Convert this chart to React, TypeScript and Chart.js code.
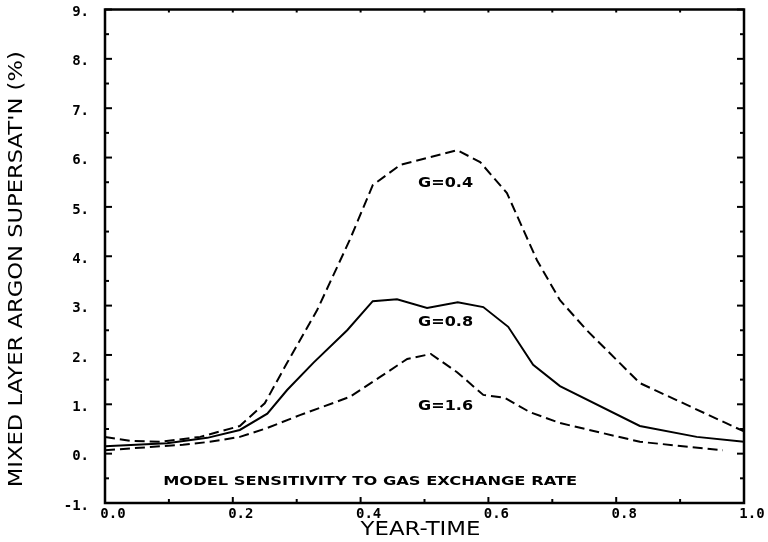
import React, { useEffect, useRef } from "react";
import { Chart, registerables } from "chart.js";

Chart.register(...registerables);

// ---- data ----
const g04X = [0.0, 0.039, 0.086, 0.149, 0.211, 0.25, 0.285, 0.332, 0.383, 0.419, 0.462, 0.551, 0.587, 0.629, 0.676, 0.712, 0.754, 0.837, 1.0];
const g04Y = [0.34, 0.26, 0.24, 0.34, 0.56, 1.02, 1.84, 2.91, 4.33, 5.44, 5.85, 6.15, 5.91, 5.28, 3.92, 3.11, 2.5, 1.43, 0.45];

const g08X = [0.0, 0.097, 0.16, 0.211, 0.254, 0.285, 0.326, 0.379, 0.419, 0.457, 0.504, 0.552, 0.592, 0.631, 0.67, 0.712, 0.837, 0.926, 1.0];
const g08Y = [0.15, 0.21, 0.32, 0.48, 0.81, 1.29, 1.84, 2.5, 3.09, 3.13, 2.95, 3.07, 2.97, 2.57, 1.8, 1.37, 0.56, 0.34, 0.24];

const g16X = [0.0, 0.044, 0.122, 0.164, 0.211, 0.254, 0.305, 0.383, 0.43, 0.473, 0.51, 0.551, 0.592, 0.626, 0.665, 0.712, 0.837, 0.967];
const g16Y = [0.07, 0.11, 0.18, 0.24, 0.34, 0.52, 0.78, 1.15, 1.55, 1.92, 2.02, 1.65, 1.19, 1.13, 0.84, 0.62, 0.24, 0.07];

const seriesLabels = ["G=0.4", "G=0.8", "G=1.6"];
const labelAnchorX = [0.533, 0.533, 0.533];
const labelAnchorY = [5.48, 2.67, 0.96];

const xTitle = "YEAR-TIME";
const yTitle = "MIXED LAYER ARGON SUPERSAT'N (%)";
const noteText = "MODEL SENSITIVITY TO GAS EXCHANGE RATE";
const noteAnchor = { x: 0.415, y: -0.58 };

const X_MIN = 0, X_MAX = 1, Y_MIN = -1, Y_MAX = 9;

const toPts = (xs: number[], ys: number[]) => xs.map((x, i) => ({ x, y: ys[i] }));

// draw text horizontally stretched to a given width, centred on (cx, cy)
function fitText(ctx: CanvasRenderingContext2D, text: string, cx: number, cy: number, width: number, font: string) {
  ctx.save();
  ctx.font = font;
  const w = ctx.measureText(text).width;
  const sx = width / w;
  ctx.translate(cx - width / 2, cy);
  ctx.scale(sx, 1);
  ctx.textAlign = "left";
  ctx.textBaseline = "middle";
  ctx.fillText(text, 0, 0);
  ctx.restore();
}

const framePlugin = {
  id: "frame",
  afterDatasetsDraw(chart: any) {
    const { ctx, chartArea: a, scales } = chart;
    const x = scales.x, y = scales.y;
    ctx.save();
    ctx.strokeStyle = "#000";
    ctx.fillStyle = "#000";
    ctx.lineWidth = 2.5;
    ctx.strokeRect(a.left, a.top, a.right - a.left, a.bottom - a.top);
    const seg = (x1: number, y1: number, x2: number, y2: number) => {
      ctx.beginPath();
      ctx.moveTo(x1, y1);
      ctx.lineTo(x2, y2);
      ctx.stroke();
    };
    ctx.lineWidth = 2;
    for (let k = Y_MIN * 2; k <= Y_MAX * 2; k++) {
      const v = k / 2;
      const py = y.getPixelForValue(v);
      const major = k % 2 === 0;
      const len = major ? 7 : 4;
      seg(a.left, py, a.left + len, py);
      seg(a.right, py, a.right - len, py);
    }
    for (let i = 0; i <= 10; i++) {
      const px = x.getPixelForValue(i / 10);
      const len = i % 2 === 0 ? 6 : 4;
      seg(px, a.bottom, px, a.bottom - len);
      seg(px, a.top, px, a.top + 3);
    }
    // series labels
    for (let i = 0; i < seriesLabels.length; i++) {
      fitText(ctx, seriesLabels[i], x.getPixelForValue(labelAnchorX[i]), y.getPixelForValue(labelAnchorY[i]), 55, "bold 14px 'DejaVu Sans'");
    }
    fitText(ctx, noteText, x.getPixelForValue(noteAnchor.x), y.getPixelForValue(noteAnchor.y), 414, "bold 12px 'DejaVu Sans'");
    // axis titles
    fitText(ctx, xTitle, (a.left + a.right) / 2 - 4, a.bottom + 27, 120, "20px 'DejaVu Sans'");
    ctx.save();
    ctx.translate(16.5, (a.top + a.bottom) / 2 + 13);
    ctx.rotate(-Math.PI / 2);
    fitText(ctx, yTitle, 0, 0, 436, "20px 'DejaVu Sans'");
    ctx.restore();
    ctx.restore();
  },
};

export default function App() {
  const ref = useRef<HTMLCanvasElement | null>(null);
  useEffect(() => {
    if (!ref.current) return;
    const lineDs = (label: string, data: any[], dashed: boolean) => ({
      label,
      data,
      borderColor: "#000",
      backgroundColor: "#000",
      borderWidth: 2,
      borderDash: dashed ? [10, 5] : [],
      pointRadius: 0,
      tension: 0,
      fill: false,
      showLine: true,
    });
    const chart = new Chart(ref.current, {
      type: "scatter",
      data: {
        datasets: [
          lineDs(seriesLabels[0], toPts(g04X, g04Y), true),
          lineDs(seriesLabels[1], toPts(g08X, g08Y), false),
          lineDs(seriesLabels[2], toPts(g16X, g16Y), true),
        ],
      },
      options: {
        animation: false,
        responsive: false,
        maintainAspectRatio: false,
        layout: { padding: { top: 9.5, right: 24, left: 0, bottom: 0 } },
        plugins: { legend: { display: false }, tooltip: { enabled: false }, title: { display: false } },
        scales: {
          x: {
            type: "linear",
            min: X_MIN,
            max: X_MAX,
            grid: { display: false, drawTicks: false },
            border: { display: false },
            ticks: {
              stepSize: 0.2,
              color: "#000",
              padding: 3,
              labelOffset: 8,
              maxRotation: 0,
              font: { family: "'DejaVu Sans Mono'", weight: "bold", size: 14 },
              callback: (v: any) => Number(v).toFixed(1),
            },
            afterFit: (s: any) => { s.height = 39; s.paddingLeft = 0; s.paddingRight = 0; },
          },
          y: {
            type: "linear",
            min: Y_MIN,
            max: Y_MAX,
            grid: { display: false, drawTicks: false },
            border: { display: false },
            ticks: {
              stepSize: 1,
              color: "#000",
              padding: 16,
              labelOffset: 3,
              font: { family: "'DejaVu Sans Mono'", weight: "bold", size: 14 },
              callback: (v: any) => `${Math.round(Number(v))}.`,
            },
            afterFit: (s: any) => { s.width = 105; s.paddingTop = 0; s.paddingBottom = 0; },
          },
        },
      },
      plugins: [framePlugin],
    } as any);
    return () => chart.destroy();
  }, []);
  return (
    <div style={{ position: "absolute", left: 0, top: 0, width: 768, height: 542, background: "#fff" }}>
      <canvas ref={ref} width={768} height={542} style={{ display: "block", width: 768, height: 542 }} />
    </div>
  );
}
